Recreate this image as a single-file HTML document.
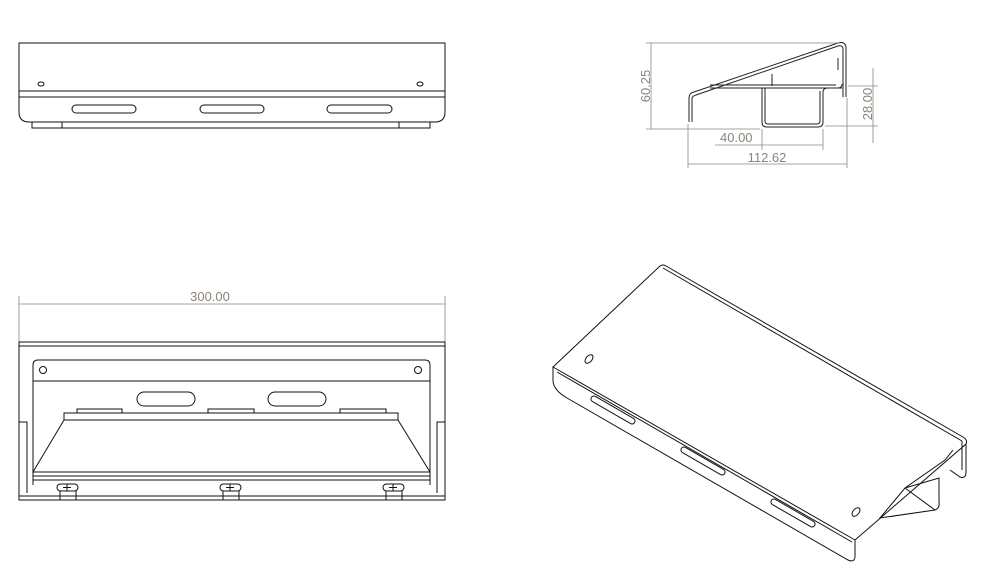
<!DOCTYPE html>
<html><head><meta charset="utf-8"><style>
html,body{margin:0;padding:0;background:#fff;}
svg{display:block;}
svg text{font-family:"Liberation Sans",sans-serif;fill:#8c8478;stroke:none;font-size:13px;font-weight:normal;}
</style></head><body>
<svg width="996" height="587" viewBox="0 0 996 587" xmlns="http://www.w3.org/2000/svg" fill="none" stroke="#111" stroke-width="1">
<!-- Top view -->
<path d="M19 43 H445 V112 Q445 122 435 122 H29 Q19 122 19 112 Z"/>
<line x1="19" y1="91" x2="445" y2="91"/>
<line x1="19" y1="97" x2="445" y2="97"/>
<rect x="72" y="105" width="64" height="8" rx="4"/>
<rect x="200" y="105" width="64" height="8" rx="4"/>
<rect x="327" y="105" width="65" height="8" rx="4"/>
<ellipse cx="41" cy="84" rx="3" ry="2"/>
<ellipse cx="420" cy="84" rx="3" ry="2"/>
<rect x="32" y="122" width="398" height="6"/>
<line x1="62" y1="122" x2="62" y2="128"/><line x1="399" y1="122" x2="399" y2="128"/>

<!-- Side view -->
<g stroke="#222">
<path d="M689 122 V98 Q689 93 694 92 L838 43 Q845 41 846 47 V97"/>
<path d="M692 122 V99 Q692 96 696 95 L838 46 Q843 45 843 49 V97"/>
<path d="M710 88 H838 Q842 88 842 84 M710 85 H836"/>
<line x1="772" y1="86" x2="772" y2="74"/>
<path d="M762 88 V122 Q762 127 767 127 H818 Q823 127 823 122 V92 Q823 88 828 88 H842"/>
<path d="M765 88 V121 Q765 124 768 124 H817 Q820 124 820 121 V91"/>
<line x1="838" y1="58" x2="838" y2="70"/>
</g>
<g stroke="#888" stroke-width="0.8">
<line x1="646" y1="43" x2="840" y2="43"/><line x1="646" y1="129" x2="760" y2="129"/>
<line x1="651" y1="43" x2="651" y2="129"/>
<line x1="848" y1="86" x2="878" y2="86"/><line x1="825" y1="126" x2="878" y2="126"/>
<line x1="873" y1="68" x2="873" y2="143"/>
<line x1="762" y1="129" x2="762" y2="150"/><line x1="823" y1="129" x2="823" y2="150"/>
<line x1="715" y1="145" x2="823" y2="145"/>
<line x1="688" y1="124" x2="688" y2="168"/><line x1="847" y1="98" x2="847" y2="168"/>
<line x1="688" y1="164" x2="847" y2="164"/>
<line x1="19" y1="296" x2="19" y2="342"/><line x1="445" y1="296" x2="445" y2="342"/>
<line x1="19" y1="304" x2="445" y2="304"/>
</g>
<text x="650" y="86" transform="rotate(-90 650 86)" text-anchor="middle">60.25</text>
<text x="872" y="104" transform="rotate(-90 872 104)" text-anchor="middle">28.00</text>
<text x="720" y="142">40.00</text>
<text x="767" y="162" text-anchor="middle">112.62</text>
<text x="210" y="301" text-anchor="middle">300.00</text>

<!-- Front view -->
<rect x="19" y="342" width="426" height="158"/>
<line x1="19" y1="346" x2="445" y2="346"/>
<path d="M33 485 V365 Q33 360 38 360 H425 Q430 360 430 365 V485"/>
<line x1="33" y1="381" x2="430" y2="381"/>
<circle cx="43" cy="370" r="3.5"/><circle cx="418" cy="370" r="3.5"/>
<rect x="137" y="392" width="58" height="14" rx="7"/>
<rect x="268" y="392" width="58" height="14" rx="7"/>
<path d="M77 413 V409 H122 V413 M208 413 V409 H254 V413 M340 413 V409 H386 V413"/>
<path d="M64 413 H398 V420 H64 Z"/>
<path d="M64 420 L33 472 H430 L398 420"/>
<line x1="33" y1="476" x2="430" y2="476"/>
<line x1="33" y1="480" x2="430" y2="480"/>
<line x1="19" y1="496" x2="445" y2="496"/>
<path d="M19 422 H27 V493 M445 422 H437 V493"/>
<rect x="57" y="484" width="21" height="7" rx="3.5"/>
<rect x="220" y="484" width="21" height="7" rx="3.5"/>
<rect x="383" y="484" width="21" height="7" rx="3.5"/>
<path d="M67 484 V491 M63 487.5 H71 M230 484 V491 M226 487.5 H234 M393 484 V491 M389 487.5 H397"/>
<path d="M60 491 V500 M76 491 V500 M223 491 V500 M239 491 V500 M386 491 V500 M402 491 V500"/>

<!-- Isometric view -->
<g stroke="#111">
<path d="M553 367 L660 266 Q663 264 666 266 L963 437 Q968 440 966 444 L855 540"/>
<line x1="663" y1="268" x2="962" y2="441"/>
<path d="M553 367 L855 540 V556 Q855 563 848 560 L567 398 Q553 390 553 380 Z"/>
<line x1="557" y1="372" x2="852" y2="542"/>
<path d="M966 444 V472 Q966 479 960 477 L950 470"/>
<path d="M962 441 V470"/>
<path d="M953 450 L945 460 L905 488 L880 518 L935 510 Q940 508 939 502 V478 L905 488"/>
<path d="M905 488 L935 510"/>
<rect x="588" y="407" width="50" height="6" rx="3" transform="rotate(30 613 410)"/>
<rect x="678" y="458" width="50" height="6" rx="3" transform="rotate(30 703 461)"/>
<rect x="768" y="510" width="50" height="6" rx="3" transform="rotate(30 793 513)"/>
<ellipse cx="589" cy="359" rx="3" ry="5" transform="rotate(40 589 359)"/>
<ellipse cx="856" cy="512" rx="3" ry="5" transform="rotate(40 856 512)"/>
</g>
</svg>
</body></html>
